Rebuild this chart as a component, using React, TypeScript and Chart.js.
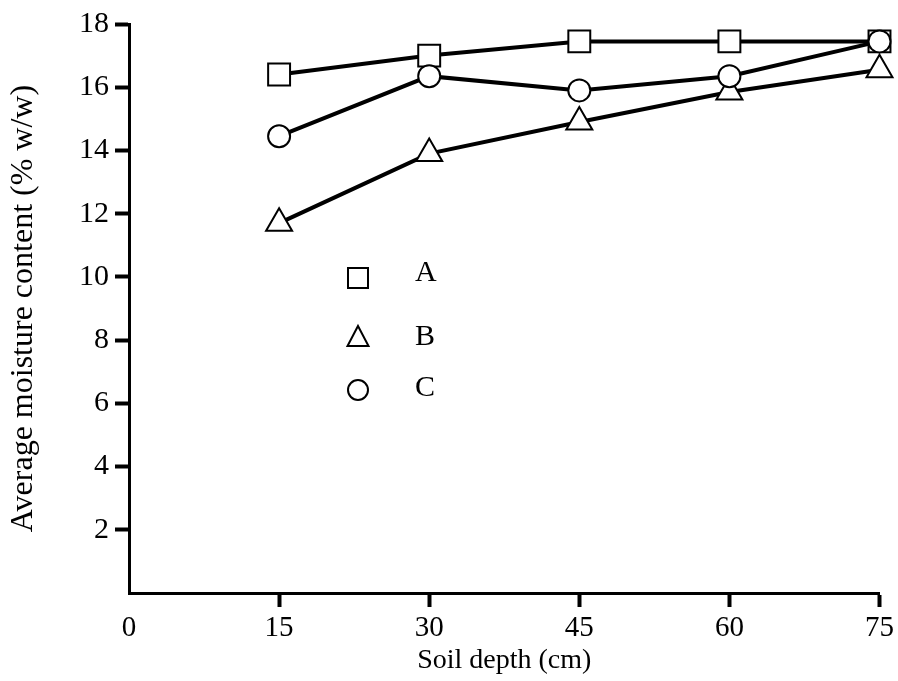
import React, { useEffect, useRef } from 'react';
import { Chart, registerables } from 'chart.js';

Chart.register(...registerables);

// ---- Data ----
const depths = [15, 30, 45, 60, 75];
const seriesA = [16.4, 17.0, 17.45, 17.45, 17.45];
const seriesB = [11.7, 13.9, 14.9, 15.85, 16.55];
const seriesC = [14.45, 16.35, 15.9, 16.35, 17.45];
const seriesLabels = ['A', 'B', 'C'];
const xAxisTitle = 'Soil depth (cm)';
const yAxisTitle = 'Average moisture content (% w/w)';

const FONT = '"Liberation Serif", "Times New Roman", serif';

const legendPlugin = {
  id: 'innerLegend',
  afterDatasetsDraw(chart: any) {
    const { ctx, chartArea } = chart;
    const markerX = chartArea.left + 229;
    const textX = chartArea.left + 286;
    const rowOffsets = [254, 313, 366];
    const ds = chart.data.datasets;
    const order = [0, 1, 2];
    ctx.save();
    order.forEach((di, i) => {
      const d = ds[di];
      const cy = chartArea.top + rowOffsets[i];
      ctx.lineWidth = 2;
      ctx.strokeStyle = '#000';
      ctx.fillStyle = '#fff';
      ctx.beginPath();
      if (d.pointStyle === 'rect') {
        ctx.rect(markerX - 10, cy - 10, 20, 20);
      } else if (d.pointStyle === 'triangle') {
        ctx.moveTo(markerX, cy - 11);
        ctx.lineTo(markerX + 10.5, cy + 9);
        ctx.lineTo(markerX - 10.5, cy + 9);
        ctx.closePath();
      } else {
        ctx.arc(markerX, cy, 10, 0, Math.PI * 2);
      }
      ctx.fill();
      ctx.stroke();
      ctx.fillStyle = '#000';
      ctx.font = `30px ${FONT}`;
      ctx.textAlign = 'left';
      ctx.textBaseline = 'middle';
      ctx.fillText(d.label, textX, cy - (i === 0 ? 5 : i === 2 ? 2 : 0));
    });
    ctx.restore();
  },
};

export default function App() {
  const ref = useRef<HTMLCanvasElement>(null);

  useEffect(() => {
    if (!ref.current) return;
    const mk = (label: string, vals: number[], style: string, radius: number, order: number) => ({
      label,
      data: depths.map((x, i) => ({ x, y: vals[i] })),
      borderColor: '#000',
      borderWidth: 4,
      pointStyle: style,
      pointRadius: radius,
      pointBackgroundColor: '#fff',
      pointBorderColor: '#000',
      pointBorderWidth: 2,
      tension: 0,
      clip: false,
      order,
    });
    const chart = new Chart(ref.current, {
      type: 'line',
      data: {
        datasets: [
          mk(seriesLabels[0], seriesA, 'rect', 15.5, 3),
          mk(seriesLabels[1], seriesB, 'triangle', 15, 2),
          mk(seriesLabels[2], seriesC, 'circle', 11, 1),
        ] as any,
      },
      options: {
        animation: false,
        responsive: false,
        devicePixelRatio: 1,
        layout: { padding: { top: 24, right: 18, left: 0, bottom: 0 } },
        plugins: { legend: { display: false }, tooltip: { enabled: false } },
        scales: {
          x: {
            type: 'linear',
            min: 0,
            max: 75,
            ticks: {
              stepSize: 15,
              color: '#000',
              font: { family: FONT, size: 29 },
              padding: 4,
              maxRotation: 0,
            },
            grid: {
              drawOnChartArea: false,
              drawTicks: true,
              tickLength: 14,
              tickWidth: 4,
              tickColor: (c: any) => (c.tick && c.tick.value === 0 ? 'rgba(0,0,0,0)' : '#000'),
            },
            border: { color: '#000', width: 3 },
            title: {
              display: true,
              text: xAxisTitle,
              color: '#000',
              font: { family: FONT, size: 28 },
              padding: { top: 0, bottom: 4 },
            },
            afterFit: (s: any) => {
              s.height = 88;
            },
          },
          y: {
            type: 'linear',
            min: 0,
            max: 18,
            ticks: {
              stepSize: 2,
              color: '#000',
              font: { family: FONT, size: 30 },
              padding: 6,
              callback: (v: any) => (v === 0 ? '' : String(v)),
            },
            grid: {
              drawOnChartArea: false,
              drawTicks: true,
              tickLength: 14,
              tickWidth: 4,
              tickColor: (c: any) => (c.tick && c.tick.value === 0 ? 'rgba(0,0,0,0)' : '#000'),
            },
            border: { color: '#000', width: 3 },
            title: {
              display: true,
              text: yAxisTitle,
              color: '#000',
              font: { family: FONT, size: 32 },
              padding: { top: 4, bottom: 0 },
            },
            afterFit: (s: any) => {
              s.width = 129;
            },
          },
        },
      } as any,
      plugins: [legendPlugin],
    });
    return () => chart.destroy();
  }, []);

  return (
    <div style={{ position: 'absolute', left: 0, top: 0, width: 898, height: 681, background: '#fff' }}>
      <canvas ref={ref} width={898} height={681} style={{ display: 'block' }} />
    </div>
  );
}
